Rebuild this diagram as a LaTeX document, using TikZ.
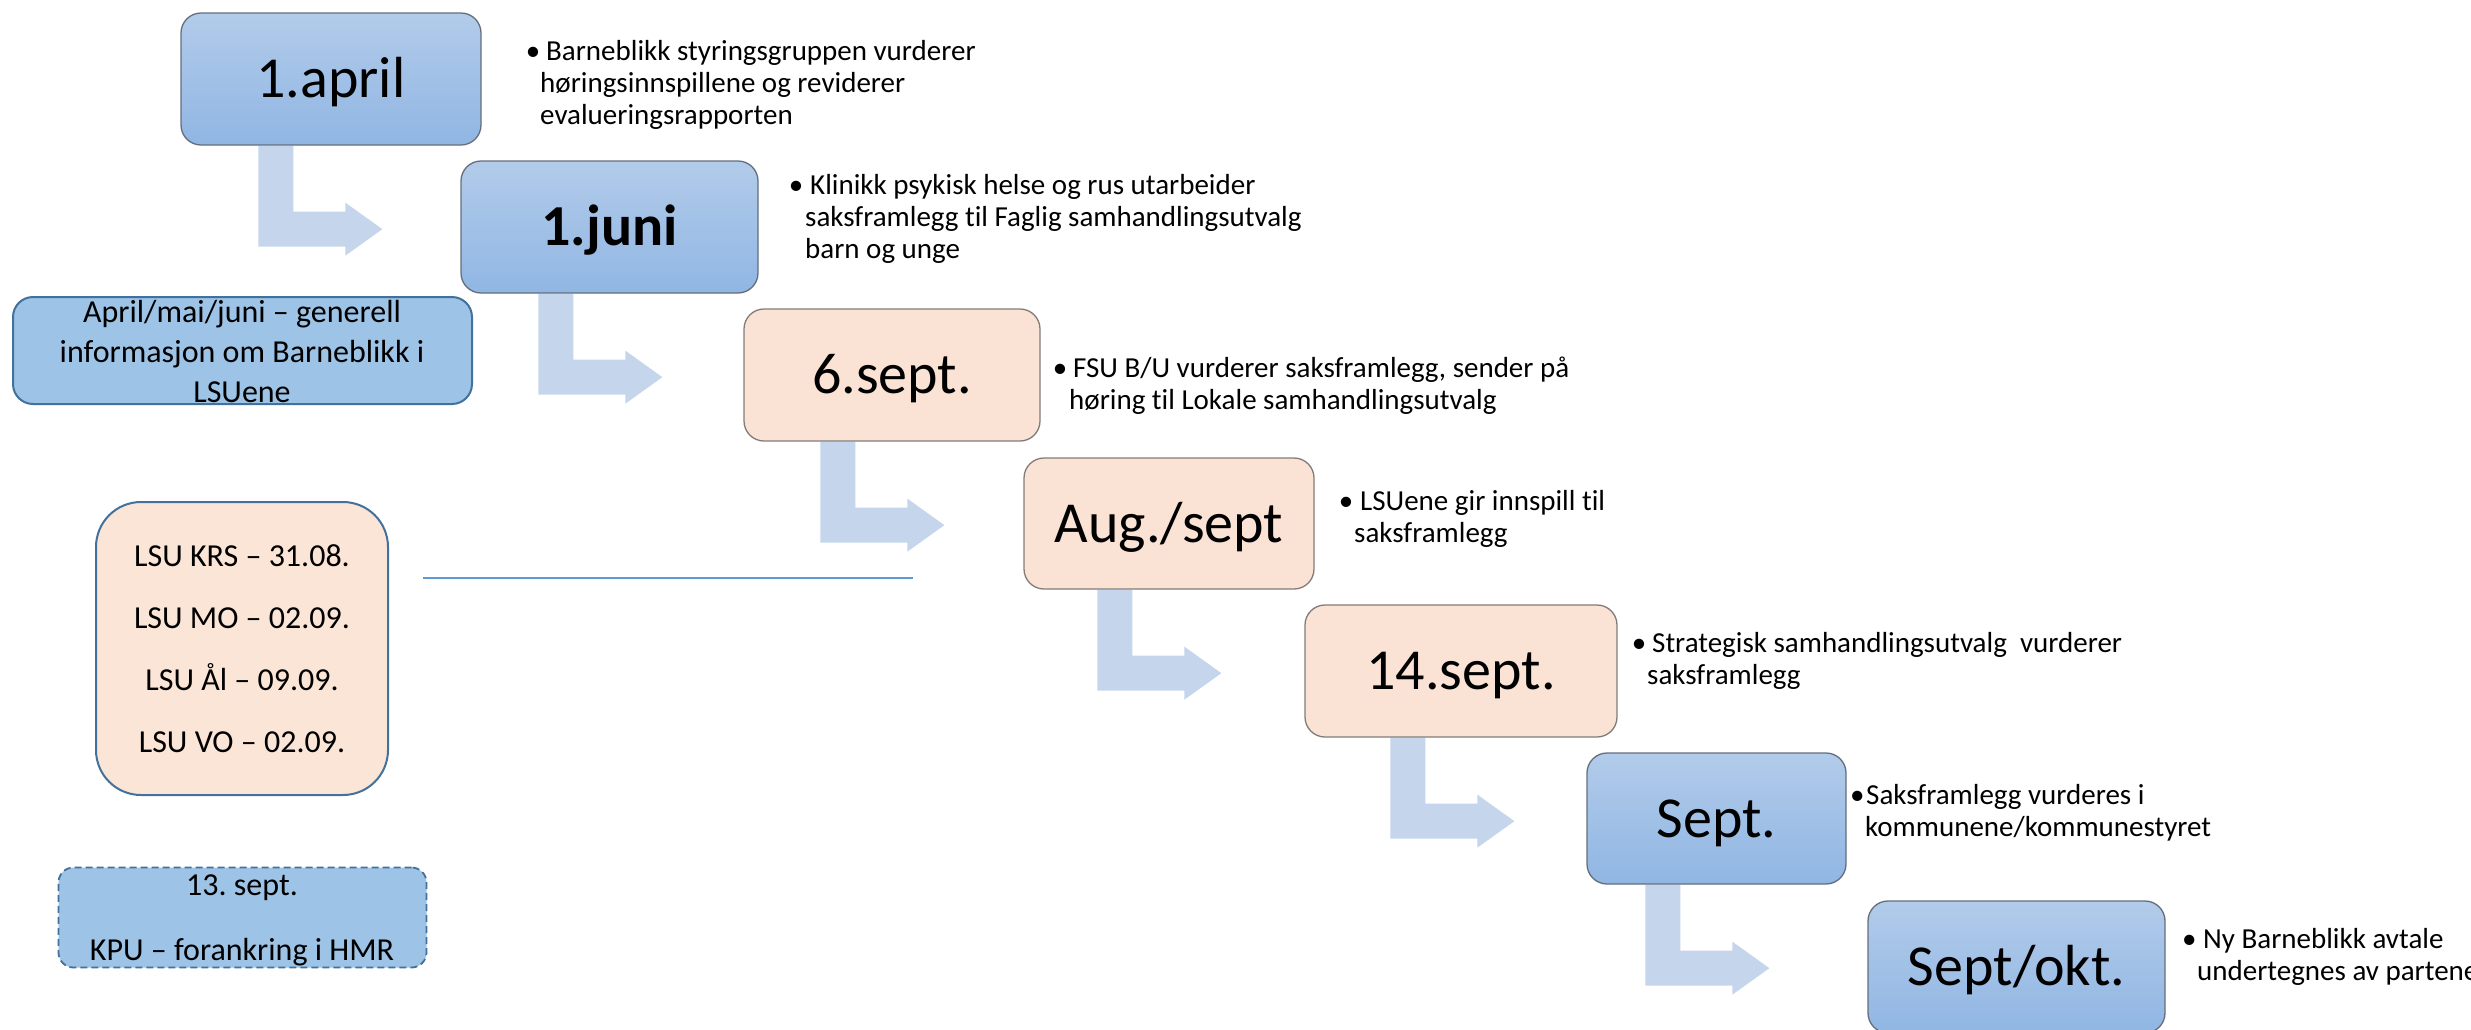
\documentclass[tikz,border=0pt]{standalone}
\usepackage{fontspec}
\setmainfont{Carlito}[Ligatures=CommonOff]
\frenchspacing
\definecolor{bluetop}{RGB}{178,203,234}
\definecolor{bluebot}{RGB}{144,182,227}
\definecolor{bluebd}{RGB}{100,110,125}
\definecolor{peach}{RGB}{250,226,212}
\definecolor{peachbd}{RGB}{130,124,120}
\definecolor{arrowc}{RGB}{197,213,235}
\definecolor{infofill}{RGB}{157,195,230}
\definecolor{infobd}{RGB}{65,113,156}
\definecolor{lsufill}{RGB}{251,229,214}
\definecolor{hline}{RGB}{91,155,213}
\pgfdeclarelayer{bg}
\pgfsetlayers{bg,main}
\newcommand{\lns}[2]{\vtop{\baselineskip=#1pt\lineskiplimit=-1000pt\lineskip=0pt #2}}
\newcommand{\bu}[1]{\rlap{\hspace{-#1pt}\makebox[0pt]{\textbullet}}}
\newcommand{\cl}[1]{\hbox to 0pt{\hss #1\hss}}
\begin{document}
\begin{tikzpicture}[x=1pt,y=-1pt,
  flow/.style={line width=1.3pt, rounded corners=20pt, inner sep=0pt,
    font=\fontsize{58}{70}\selectfont, text height=37.4pt, text depth=0pt,
    minimum height=132pt},
  blueflow/.style={flow, draw=bluebd, top color=bluetop, bottom color=bluebot},
  peachflow/.style={flow, draw=peachbd, fill=peach},
  btext/.style={anchor=base west, inner sep=0pt, font=\fontsize{29}{32}\selectfont},
  ctext/.style={anchor=base, inner sep=0pt, font=\fontsize{32}{40}\selectfont},
  bentarrow/.pic={\fill[arrowc] (0,0) -- (35,0) -- (35,66) -- (87,66) -- (87,57)
     -- (124,83.5) -- (87,110) -- (87,101) -- (0,101) -- cycle;}
]
\useasboundingbox (0,0) rectangle (2471,1029);

% flow boxes
\node[blueflow, minimum width=300pt] (b1) at (331,79) {1.april};
\node[blueflow, minimum width=297pt, font=\fontsize{58}{70}\selectfont\bfseries] (b2) at (609.5,227) {1.juni};
\node[peachflow, minimum width=296pt] (b3) at (892,375) {6.sept.};
\node[peachflow, minimum width=290pt, minimum height=131pt] (b4) at (1169,523.5) {Aug./sept};
\node[peachflow, minimum width=312pt] (b5) at (1461,671) {14.sept.};
\node[blueflow, minimum width=259pt, minimum height=131pt] (b6) at (1716.5,818.5) {Sept.};
\node[blueflow, minimum width=297pt] (b7) at (2016.5,967) {Sept/okt.};

% bent arrows
\begin{pgfonlayer}{bg}
\pic at ([xshift=78pt]b1.south west) {bentarrow};
\pic at ([xshift=78pt]b2.south west) {bentarrow};
\pic at ([xshift=77pt]b3.south west) {bentarrow};
\pic at ([xshift=74pt]b4.south west) {bentarrow};
\pic at ([xshift=86pt]b5.south west) {bentarrow};
\pic at ([xshift=59pt]b6.south west) {bentarrow};
\end{pgfonlayer}

% bullet texts
\node[btext] (t1) at (540,60) {\lns{32}{\hbox{\bu{7}\hspace{6pt}Barneblikk styringsgruppen vurderer}\hbox{høringsinnspillene og reviderer}\hbox{evalueringsrapporten}}};
\node[btext] (t2) at (805,194) {\lns{32}{\hbox{\bu{9}\hspace{5pt}Klinikk psykisk helse og rus utarbeider}\hbox{saksframlegg til Faglig samhandlingsutvalg}\hbox{barn og unge}}};
\node[btext] (t3) at (1069,377) {\lns{32}{\hbox{\bu{9}\hspace{4pt}FSU B/U vurderer saksframlegg, sender på}\hbox{høring til Lokale samhandlingsutvalg}}};
\node[btext] (t4) at (1354,510) {\lns{32}{\hbox{\bu{8}\hspace{6pt}LSUene gir innspill til}\hbox{saksframlegg}}};
\node[btext] (t5) at (1647,652) {\lns{32}{\hbox{\bu{8}\hspace{5pt}Strategisk samhandlingsutvalg\ \ vurderer}\hbox{saksframlegg}}};
\node[btext] (t6) at (1865,804) {\lns{32}{\hbox{\bu{8}\hspace{1pt}Saksframlegg vurderes i}\hbox{kommunene/kommunestyret}}};
\node[btext] (t7) at (2197,948) {\lns{32}{\hbox{\bu{8}\hspace{6pt}Ny Barneblikk avtale}\hbox{undertegnes av partene}}};

% left side boxes
\node[draw=infobd, line width=2pt, fill=infofill, rounded corners=20pt,
  minimum width=459pt, minimum height=107pt, inner sep=0pt] (info) at (242.5,350.5) {};
\node[ctext] (infot) at (242,322) {\lns{40}{\cl{April/mai/juni – generell}\cl{informasjon om Barneblikk i}\cl{LSUene}}};

\node[draw=infobd, line width=2pt, fill=lsufill, rounded corners=45pt,
  minimum width=292pt, minimum height=293pt, inner sep=0pt] (lsu) at (242,648.5) {};
\node[ctext] (lsut) at (242,566) {\lns{62.3}{\cl{LSU KRS – 31.08.}\cl{LSU MO – 02.09.}\cl{LSU Ål – 09.09.}\cl{LSU VO – 02.09.}}};

\node[draw=infobd, line width=1.8pt, dash pattern=on 7pt off 4pt, fill=infofill, rounded corners=15pt,
  minimum width=368pt, minimum height=100pt, inner sep=0pt] (kpu) at (242.5,917.5) {};
\node[ctext] (kput) at (242,895) {\lns{65}{\cl{13. sept.}\cl{KPU – forankring i HMR}}};

% horizontal line
\coordinate (h1) at (423,578);
\coordinate (h2) at (913,578);
\draw[hline, line width=1.5pt] (h1) -- (h2);
\end{tikzpicture}
\end{document}
